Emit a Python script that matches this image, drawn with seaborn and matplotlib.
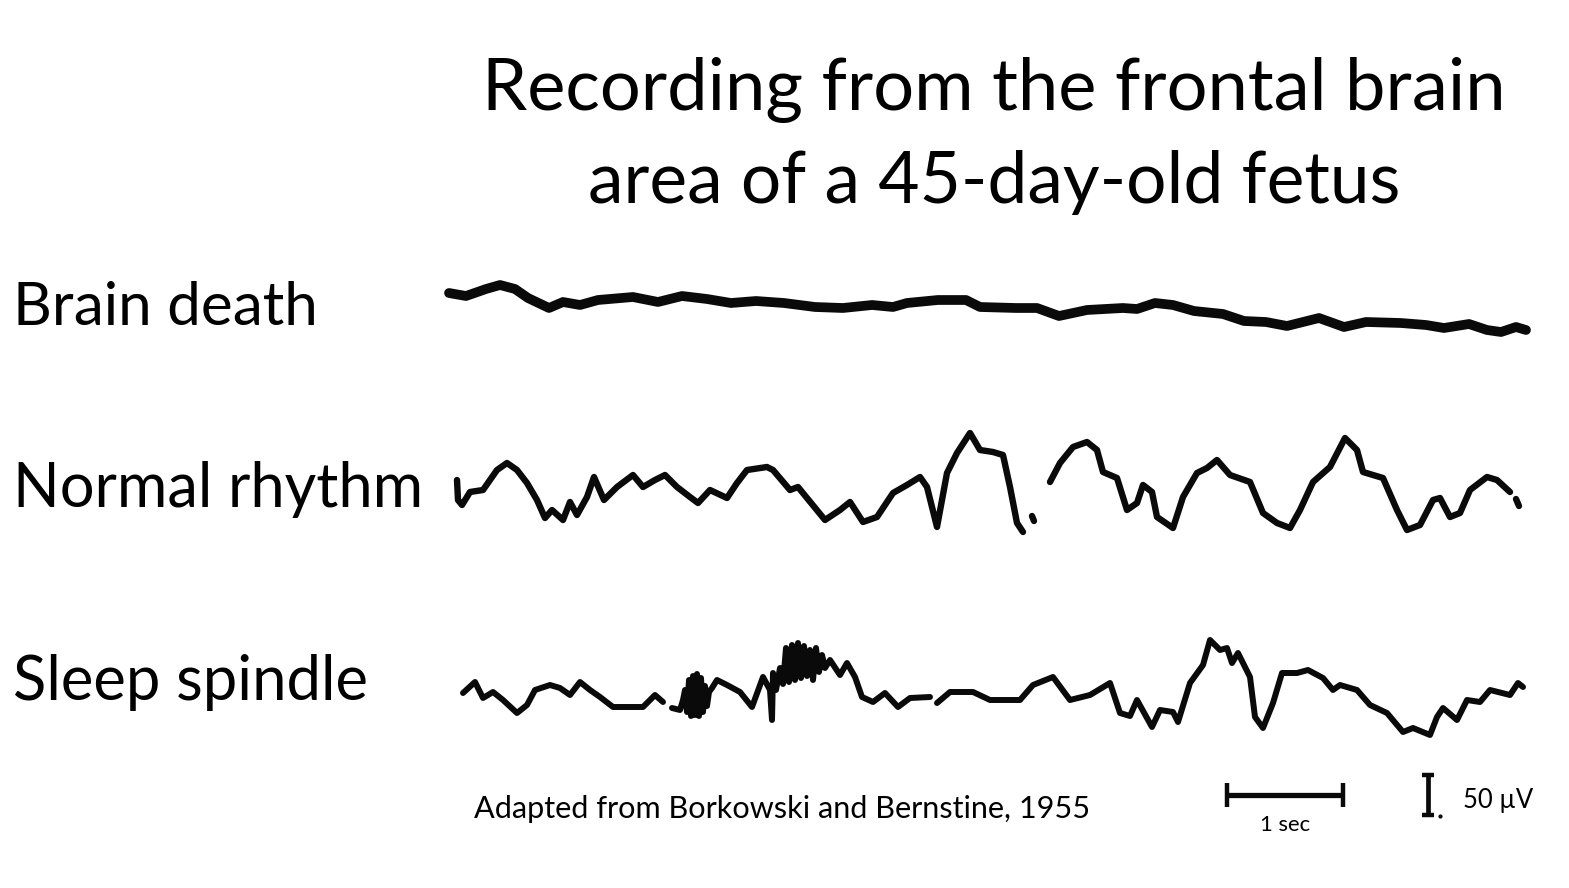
import matplotlib
matplotlib.use("Agg")
import matplotlib.pyplot as plt
import seaborn as sns
import numpy as np

# ---------------- data (pixel-space units) ----------------
title_lines = ["Recording from the frontal brain", "area of a 45-day-old fetus"]
trace_labels = ["Brain death", "Normal rhythm", "Sleep spindle"]
source_text = "Adapted from Borkowski and Bernstine, 1955"
time_scale_label = "1 sec"
amp_scale_label = "50 \u00b5V"

# Brain death trace
brain_death_x = [449, 466, 486, 500, 515, 528, 549, 563, 580, 598, 633, 658, 682, 707, 731, 756,
                 784, 815, 843, 872, 893, 907, 938, 966, 980, 1016, 1037, 1059, 1087, 1123, 1137,
                 1155, 1173, 1194, 1223, 1244, 1266, 1287, 1319, 1344, 1366, 1401, 1426, 1444,
                 1469, 1487, 1501, 1516, 1526]
brain_death_y = [293, 296, 289, 285, 289, 298, 308, 302, 305, 300, 297, 302, 296, 299, 303, 301,
                 303, 307, 308, 305, 307, 303, 300, 300, 307, 308, 308, 316, 310, 308, 309,
                 303, 305, 311, 314, 321, 322, 326, 318, 327, 322, 323, 325, 328, 324, 330,
                 332, 327, 330]

# Normal rhythm trace (pieces: main, stray dot, second half, end dot)
normal_x1 = [457, 458, 462, 470, 483, 497, 507, 517, 527, 537, 545, 552, 563, 570, 577, 587, 594,
             604, 617, 633, 643, 655, 665, 677, 690, 698, 710, 727, 737, 747, 767, 773, 790, 798,
             807, 825, 840, 850, 863, 877, 893, 907, 920, 927, 937, 947, 957, 970, 980, 993,
             1003, 1010, 1017, 1023]
normal_y1 = [480, 500, 505, 492, 490, 470, 463, 470, 483, 500, 518, 510, 520, 502, 515, 497, 477,
             500, 487, 475, 487, 480, 475, 487, 497, 503, 490, 498, 483, 470, 467, 470, 490, 487,
             498, 520, 510, 502, 522, 517, 493, 485, 477, 487, 527, 473, 453, 433, 450, 452,
             455, 487, 523, 532]
normal_x2 = [1032, 1034]
normal_y2 = [516, 521]
normal_x3 = [1050, 1060, 1073, 1087, 1097, 1103, 1117, 1127, 1137, 1143, 1152, 1157, 1173, 1183,
             1197, 1207, 1217, 1230, 1250, 1263, 1277, 1290, 1300, 1313, 1330, 1345, 1357, 1363,
             1383, 1397, 1407, 1420, 1433, 1440, 1450, 1460, 1470, 1487, 1497, 1510]
normal_y3 = [482, 463, 447, 442, 450, 472, 478, 510, 503, 485, 492, 517, 528, 497,
             473, 468, 460, 475, 482, 513, 523, 528, 510, 482, 467, 438, 450, 472,
             478, 510, 530, 525, 500, 498, 517, 513, 490, 477, 480, 492]
normal_x4 = [1516, 1519]
normal_y4 = [499, 506]

# Sleep spindle trace (three pieces)
spindle_x1 = [463, 475, 483, 493, 503, 517, 527, 535, 550, 560, 570, 580, 590, 600, 613, 643,
              655, 663]
spindle_y1 = [693, 682, 698, 692, 700, 713, 705, 690, 685, 688, 695, 682, 690, 697, 707, 707,
              695, 702]
spindle_x2 = [672, 680, 683, 685, 687, 689, 691, 693, 695, 697, 699, 701, 703, 705, 707, 709, 712,
              717, 727, 740, 752, 763, 770, 772, 773, 776, 780, 783, 786, 789, 792, 795, 798,
              801, 804, 807, 810, 813, 816, 819, 822, 825, 830, 840, 847, 855, 862, 873, 885,
              898, 910, 930]
spindle_y2 = [708, 710, 700, 690, 712, 680, 716, 676, 715, 674, 716, 678, 712, 686, 706, 692, 688,
              680, 685, 692, 707, 677, 690, 720, 673, 690, 668, 684, 648, 682, 645, 680, 643,
              678, 646, 676, 650, 680, 648, 672, 655, 668, 660, 675, 663, 677, 697, 702, 693,
              707, 698, 697]
spindle_x3 = [937, 950, 973, 990, 1020, 1033, 1053, 1070, 1090, 1110, 1120, 1130, 1137, 1152,
              1160, 1173, 1178, 1190, 1203, 1210, 1220, 1227, 1232, 1238, 1250, 1255, 1263,
              1273, 1282, 1297, 1308, 1323, 1333, 1340, 1357, 1370, 1387, 1403, 1413, 1430,
              1437, 1443, 1457, 1467, 1480, 1490, 1510, 1518, 1523]
spindle_y3 = [703, 692, 692, 700, 700, 685, 677, 700, 695, 683, 713, 716, 700, 727,
              710, 712, 722, 683, 665, 640, 650, 648, 663, 653, 677, 717, 728,
              703, 673, 673, 670, 678, 690, 685, 690, 705, 713, 732, 728, 735,
              717, 708, 720, 700, 702, 690, 695, 683, 687]

# scale bars: 1 s horizontal, 50 uV vertical
time_bar_x = [1227, 1343]
time_bar_y = 795
amp_bar_x = 1428
amp_bar_y = [775, 815]

# ---------------- figure ----------------
sns.set_theme(style="white")
plt.rcParams["font.family"] = ["Lato", "DejaVu Sans"]

W, H = 1569, 888
fig = plt.figure(figsize=(W / 100, H / 100), dpi=100)
fig.patch.set_facecolor("white")
ax = fig.add_axes([0, 0, 1, 1])
ax.set_xlim(0, W)
ax.set_ylim(H, 0)
ax.axis("off")

ink = "#0a0a0a"

def trace(xs, ys, lw):
    sns.lineplot(x=xs, y=ys, ax=ax, sort=False, estimator=None, color=ink, lw=lw,
                 solid_joinstyle="round", solid_capstyle="round", legend=False)

trace(brain_death_x, brain_death_y, 7.0)
for xs, ys in [(normal_x1, normal_y1), (normal_x2, normal_y2), (normal_x3, normal_y3),
               (normal_x4, normal_y4)]:
    trace(xs, ys, 4.6)
for xs, ys in [(spindle_x1, spindle_y1), (spindle_x2, spindle_y2), (spindle_x3, spindle_y3)]:
    trace(xs, ys, 4.3)

# scale bars
ax.plot(time_bar_x, [time_bar_y, time_bar_y], color=ink, lw=3.8, solid_capstyle="butt")
for xb in time_bar_x:
    ax.plot([xb, xb], [time_bar_y - 12, time_bar_y + 12], color=ink, lw=3.2, solid_capstyle="butt")
ax.plot([amp_bar_x, amp_bar_x], amp_bar_y, color=ink, lw=3.4, solid_capstyle="butt")
for yb in amp_bar_y:
    ax.plot([amp_bar_x - 6, amp_bar_x + 6], [yb, yb], color=ink, lw=3.2, solid_capstyle="butt")
ax.plot([amp_bar_x + 12], [amp_bar_y[1] + 1], marker="o", ms=2, color=ink)

# ---------------- text fitted to measured widths ----------------
fig.canvas.draw()
renderer = fig.canvas.get_renderer()

def fit_text(x, y, s, width_px, ha="left"):
    t = ax.text(x, y, s, fontsize=30, ha=ha, va="baseline", color="black")
    w = t.get_window_extent(renderer=renderer).width
    t.set_fontsize(30 * width_px / w)
    return t

fit_text(993.5, 110, title_lines[0], 1023, ha="center")
fit_text(994, 203, title_lines[1], 812, ha="center")
fit_text(13, 325, trace_labels[0], 305)
fit_text(13, 507, trace_labels[1], 409)
fit_text(13, 700, trace_labels[2], 355)
fit_text(474, 818, source_text, 616)
fit_text(1285, 831, time_scale_label, 50, ha="center")
fit_text(1463, 808, amp_scale_label, 70)

fig.savefig("out.png", dpi=100, facecolor="white")
